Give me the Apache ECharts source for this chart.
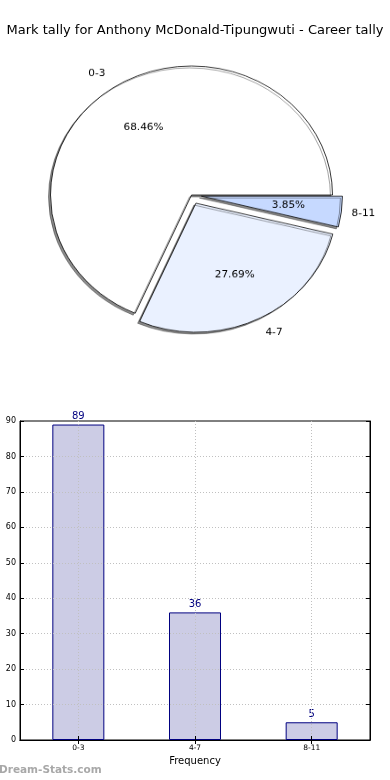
<!DOCTYPE html>
<html>
<head>
<meta charset="utf-8">
<script src="https://cdn.jsdelivr.net/npm/echarts@6/dist/echarts.min.js"></script>
<style>
html,body{margin:0;padding:0;background:#fff;}
#main{position:absolute;left:0;top:0;width:390px;height:780px;}
#pie{position:absolute;left:0;top:0;width:390px;height:390px;transform:scaleY(0.915);transform-origin:50% 195px;}
</style>
</head>
<body>
<div id="main"></div>
<div id="pie"></div>
<script>
var titleText = 'Mark tally for Anthony McDonald-Tipungwuti - Career tally';
var categories = ['0-3', '4-7', '8-11'];
var counts = [89, 36, 5];
var exploded = [false, true, true];
var pieColors = ['#ffffff', '#eaf1ff', '#c6d9ff'];
var yTicks = [0, 10, 20, 30, 40, 50, 60, 70, 80, 90];
var xAxisName = 'Frequency';
var watermark = 'Dream-Stats.com';

var FONT = 'DejaVu Sans';
var total = counts.reduce(function(a,b){return a+b;},0);

// ---------- bar chart + title ----------
var main = echarts.init(document.getElementById('main'), null, {renderer:'canvas'});
var yMin = yTicks[0], yMax = yTicks[yTicks.length-1], yInt = yTicks[1]-yTicks[0];
main.setOption({
  animation:false,
  backgroundColor:'#fff',
  title:{text:titleText,left:'center',top:19,textStyle:{fontFamily:FONT,fontSize:13,fontWeight:'normal',color:'#000'}},
  graphic:[{type:'text',left:-1,top:765,style:{text:watermark,fontFamily:FONT,fontSize:10.5,fontWeight:'bold',fill:'#a8a8a8'}}],
  grid:{left:20,right:20,top:421,bottom:40,show:true,borderColor:'#000',borderWidth:1,backgroundColor:'transparent'},
  xAxis:[{
    type:'category',data:categories,z:5,
    name:xAxisName,nameLocation:'middle',nameGap:16,nameTextStyle:{fontFamily:FONT,fontSize:10,color:'#000'},
    axisLine:{show:true,lineStyle:{color:'#000',width:1}},
    axisTick:{show:true,inside:true,alignWithLabel:true,length:4,lineStyle:{color:'#000'}},
    axisLabel:{fontFamily:FONT,fontSize:7.5,color:'#000',margin:4},
    splitLine:{show:false}
  },{
    type:'category',data:categories,position:'top',z:5,
    axisLine:{show:true,lineStyle:{color:'#000',width:1}},
    axisTick:{show:true,inside:true,alignWithLabel:true,length:4,lineStyle:{color:'#000'}},
    axisLabel:{show:false},splitLine:{show:false}
  }],
  yAxis:[{
    type:'value',min:yMin,max:yMax,interval:yInt,z:5,
    axisLine:{show:true,lineStyle:{color:'#000',width:1}},
    axisTick:{show:true,inside:true,length:4,lineStyle:{color:'#000'}},
    axisLabel:{fontFamily:FONT,fontSize:8,color:'#000',margin:4},
    splitLine:{show:true,showMinLine:false,showMaxLine:false,lineStyle:{color:'#c0c0c0',type:[1,2],width:1}}
  },{
    type:'value',min:yMin,max:yMax,interval:yInt,position:'right',z:5,
    axisLine:{show:true,lineStyle:{color:'#000',width:1}},
    axisTick:{show:true,inside:true,length:4,lineStyle:{color:'#000'}},
    axisLabel:{show:false},splitLine:{show:false}
  }],
  series:[{
    type:'bar',data:counts,barWidth:52,xAxisIndex:0,yAxisIndex:0,
    itemStyle:{color:'#ccccE5',borderColor:'#000080',borderWidth:1},
    label:{show:true,position:'top',distance:3,fontFamily:FONT,fontSize:10,color:'#000080'},
    emphasis:{disabled:true},
    markLine:{
      silent:true,symbol:['none','none'],label:{show:false},
      lineStyle:{color:'#c0c0c0',type:[1,2],width:1},
      data:categories.map(function(c){return {xAxis:c};})
    }
  }]
});

// ---------- pie chart (elliptical via CSS scaleY) ----------
var pie = echarts.init(document.getElementById('pie'), null, {renderer:'canvas'});
var R = 141, EXP = 10, CX = 191.5, CY = 195;
var labelPad = {'0-3':16, '4-7':16, '8-11':10};
function pieData(mode){
  return categories.map(function(c,i){
    var d = {name:c,value:counts[i],selected:exploded[i]};
    if(mode==='main'){
      d.itemStyle = {color:pieColors[i]};
      d.select = {itemStyle:{color:pieColors[i],borderColor:'#000',borderWidth:0.8}};
    } else if(mode==='outer'){
      var left = (i===0);
      d.label = {padding: left ? [0,labelPad[c],0,0] : [0,0,0,labelPad[c]]};
    }
    return d;
  });
}
pie.setOption({
  animation:false,
  series:[{
    type:'pie',center:[CX,CY],radius:[0,R],startAngle:0,clockwise:false,
    selectedMode:'multiple',selectedOffset:EXP,avoidLabelOverlap:false,silent:true,
    itemStyle:{borderColor:'#000',borderWidth:0.8,shadowColor:'rgba(0,0,0,0.45)',shadowBlur:0,shadowOffsetX:-2,shadowOffsetY:2},
    label:{show:false},labelLine:{show:false},
    emphasis:{disabled:true},
    data:pieData('main')
  },{
    type:'pie',center:[CX,CY],radius:[0,R*1.2],startAngle:0,clockwise:false,
    selectedMode:'multiple',selectedOffset:EXP,avoidLabelOverlap:false,silent:true,
    itemStyle:{color:'transparent',borderWidth:0},
    label:{show:true,position:'inside',fontFamily:FONT,fontSize:10.5,color:'#000',
      formatter:function(p){return (p.value/total*100).toFixed(2)+'%';}},
    labelLine:{show:false},emphasis:{disabled:true},select:{itemStyle:{color:'transparent',borderWidth:0}},
    data:pieData('pct')
  },{
    type:'pie',center:[CX,CY],radius:[R,R*1.2],startAngle:0,clockwise:false,
    selectedMode:'multiple',selectedOffset:EXP,avoidLabelOverlap:false,silent:true,
    itemStyle:{color:'transparent',borderWidth:0},
    label:{show:true,position:'inside',fontFamily:FONT,fontSize:10.5,color:'#000',formatter:'{b}'},
    labelLine:{show:false},emphasis:{disabled:true},select:{itemStyle:{color:'transparent',borderWidth:0}},
    data:pieData('outer')
  }]
});
</script>
</body>
</html>
